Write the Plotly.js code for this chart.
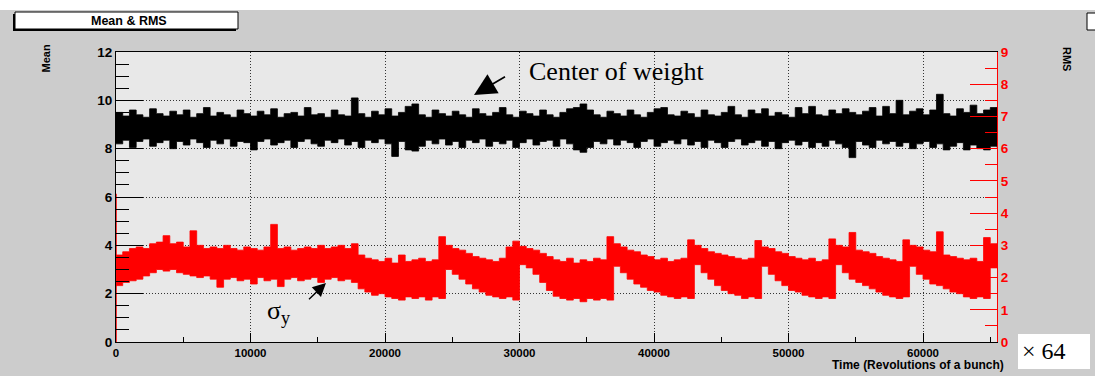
<!DOCTYPE html>
<html><head><meta charset="utf-8">
<script src="https://cdn.plot.ly/plotly-3.0.1.min.js"></script>
<style>html,body{margin:0;padding:0;background:#cccccc;}#chart{width:1095px;height:376px;}</style>
</head><body><div id="chart"></div>
<script>
// Sampling grid (revolutions of a bunch / 64)
const revolutions = [0,500,1000,1500,2000,2500,3000,3500,4000,4500,
5000,5500,6000,6500,7000,7500,8000,8500,9000,9500,
10000,10500,11000,11500,12000,12500,13000,13500,14000,14500,
15000,15500,16000,16500,17000,17500,18000,18500,19000,19500,
20000,20500,21000,21500,22000,22500,23000,23500,24000,24500,
25000,25500,26000,26500,27000,27500,28000,28500,29000,29500,
30000,30500,31000,31500,32000,32500,33000,33500,34000,34500,
35000,35500,36000,36500,37000,37500,38000,38500,39000,39500,
40000,40500,41000,41500,42000,42500,43000,43500,44000,44500,
45000,45500,46000,46500,47000,47500,48000,48500,49000,49500,
50000,50500,51000,51500,52000,52500,53000,53500,54000,54500,
55000,55500,56000,56500,57000,57500,58000,58500,59000,59500,
60000,60500,61000,61500,62000,62500,63000,63500,64000,64500,
65000,65500];

// Mean (centre of weight): upper / lower envelope of the black band (left axis)
const meanHi = [9.5,9.35,9.6,9.4,9.3,9.65,9.45,9.35,9.55,9.4,
9.6,9.3,9.45,9.7,9.35,9.5,9.4,9.3,9.6,9.45,
9.35,9.55,9.4,9.65,9.3,9.45,9.5,9.35,9.7,9.4,
9.45,9.3,9.6,9.4,9.35,10.1,9.45,9.3,9.55,9.4,
9.65,9.35,9.5,9.75,9.85,9.4,9.3,9.6,9.45,9.35,
9.55,9.4,9.3,9.65,9.45,9.35,9.5,9.7,9.4,9.3,
9.55,9.45,9.35,9.6,9.4,9.3,9.5,9.65,9.7,9.85,
9.6,9.4,9.3,9.55,9.45,9.35,9.6,9.4,9.3,9.5,
9.65,9.7,9.4,9.35,9.55,9.45,9.3,9.6,9.4,9.35,
9.5,9.75,9.4,9.3,9.6,9.45,9.65,9.35,9.5,9.4,
9.3,9.7,9.45,9.75,9.4,9.35,9.6,9.45,9.65,9.5,
9.4,9.55,9.7,9.35,9.75,9.45,10.0,9.4,9.55,9.65,
9.4,9.6,10.25,9.45,9.35,9.65,9.5,9.8,9.45,9.6,
9.7,9.5];
const meanLo = [8.2,8.35,8.05,8.3,8.4,8.1,8.25,8.35,8.0,8.3,
8.15,8.4,8.25,8.05,8.35,8.2,8.4,8.1,8.3,8.25,
7.95,8.3,8.4,8.15,8.25,8.35,8.05,8.3,8.4,8.2,
8.1,8.35,8.25,8.4,8.15,8.3,8.05,8.35,8.25,8.4,
8.2,7.68,8.3,7.95,7.9,8.1,8.35,8.2,8.4,8.15,
8.3,8.05,8.35,8.25,8.4,8.1,8.3,8.2,8.35,8.05,
8.25,8.4,8.15,8.3,8.35,8.1,8.4,8.2,7.95,7.85,
8.05,8.3,8.2,8.4,8.15,8.35,8.25,8.05,8.3,8.4,
8.1,8.25,8.35,8.2,8.4,8.15,8.3,8.05,8.35,8.25,
8.05,8.3,8.4,8.15,8.25,8.35,8.1,8.3,8.0,8.25,
8.35,8.15,8.3,8.05,8.25,8.1,8.35,8.2,8.05,7.63,
8.3,8.15,8.05,8.35,8.2,8.3,8.1,8.25,8.0,8.2,
8.3,8.05,8.2,7.95,8.1,8.25,7.95,8.15,8.0,7.95,
8.1,8.05];

// RMS (sigma_y): upper / lower envelope of the red band (right axis)
const rmsHi = [2.7,2.8,2.9,2.95,2.9,3.05,3.1,3.3,3.05,3.1,
2.95,3.45,3.0,2.9,2.95,2.9,3.0,2.9,2.85,2.95,
2.9,2.85,2.95,3.65,2.9,2.95,2.85,2.9,2.95,2.9,
3.0,2.9,2.95,3.0,2.9,3.05,2.7,2.6,2.55,2.5,
2.6,2.45,2.7,2.5,2.55,2.6,2.5,2.55,3.27,3.0,
2.9,2.85,2.75,2.65,2.6,2.55,2.5,2.6,2.95,3.13,
2.97,2.9,2.85,2.75,2.65,2.55,2.5,2.6,2.45,2.55,
2.5,2.6,2.55,3.27,3.05,2.95,2.85,2.8,2.7,2.65,
2.55,2.6,2.5,2.55,2.6,3.17,3.0,2.9,2.8,2.75,
2.7,2.65,2.6,2.55,2.6,3.15,2.95,2.9,2.8,2.75,
2.65,2.6,2.55,2.6,2.5,2.55,3.2,3.0,2.95,3.4,
2.85,2.8,2.75,2.65,2.6,2.55,2.5,3.17,3.0,2.95,
2.85,2.8,3.42,2.7,2.65,2.6,2.55,2.6,2.5,3.24,
3.05,3.0];
const rmsLo = [1.75,1.85,1.9,1.95,2.05,2.15,2.25,2.2,2.25,2.15,
2.1,2.05,2.0,2.05,1.95,1.7,1.95,2.0,1.9,1.95,
1.8,2.0,1.9,1.95,1.72,1.95,2.0,1.9,1.95,2.0,
1.85,1.95,2.0,1.9,1.95,1.85,1.65,1.55,1.45,1.5,
1.4,1.35,1.3,1.4,1.35,1.4,1.3,1.4,1.35,2.25,
2.1,1.95,1.8,1.65,1.55,1.45,1.4,1.35,1.4,1.3,
2.4,2.3,2.1,1.85,1.6,1.42,1.35,1.3,1.35,1.25,
1.35,1.3,1.35,1.3,2.35,2.15,1.95,1.8,1.7,1.6,
1.55,1.45,1.4,1.35,1.4,1.35,2.4,2.15,1.95,1.75,
1.6,1.5,1.45,1.35,1.4,1.35,2.35,2.1,1.9,1.75,
1.6,1.55,1.45,1.4,1.35,1.4,1.35,2.4,2.15,1.95,
1.85,1.75,1.65,1.55,1.45,1.4,1.35,1.4,2.35,2.1,
1.95,1.8,1.75,1.65,1.55,1.5,1.4,1.35,1.4,1.35,
2.3,2.35];
// initial vertical stroke of the RMS graph at t = 0
const rmsStartX = [0, 0];
const rmsStartY = [0, 4.6];

const SANS = '"Liberation Sans", Arial, Helvetica, sans-serif';
const SERIF = '"Liberation Serif", "Times New Roman", serif';

// pixel -> paper helpers (plot area 116..997 x 52..342)
const PL = 116, PR = 997, PT = 52, PB = 342;
const fx = p => (p - PL) / (PR - PL);
const fy = p => (PB - p) / (PB - PT);

const traces = [
  {x: revolutions, y: meanLo, type: 'scatter', mode: 'lines', line: {color: '#000', width: 0.8, shape: 'hv'}, hoverinfo: 'skip'},
  {x: revolutions, y: meanHi, type: 'scatter', mode: 'lines', fill: 'tonexty', fillcolor: '#000', line: {color: '#000', width: 0.8, shape: 'hv'}, hoverinfo: 'skip'},
  {x: revolutions, y: rmsLo, yaxis: 'y2', type: 'scatter', mode: 'lines', line: {color: '#ff0000', width: 0.8, shape: 'hv'}, hoverinfo: 'skip'},
  {x: revolutions, y: rmsHi, yaxis: 'y2', type: 'scatter', mode: 'lines', fill: 'tonexty', fillcolor: '#ff0000', line: {color: '#ff0000', width: 0.8, shape: 'hv'}, hoverinfo: 'skip'},
  {x: rmsStartX, y: rmsStartY, yaxis: 'y2', type: 'scatter', mode: 'lines', line: {color: '#ff0000', width: 1.5}, hoverinfo: 'skip'}
];

const grid = {showgrid: true, griddash: '1px,2px', gridcolor: '#333', gridwidth: 1};

const layout = {
  width: 1095, height: 376,
  margin: {l: PL, r: 1095 - PR, t: PT, b: 376 - PB, pad: 0},
  paper_bgcolor: '#cccccc', plot_bgcolor: '#e8e8e8', showlegend: false,
  xaxis: Object.assign({
    range: [0, 65500], tick0: 0, dtick: 10000, tickformat: 'd',
    ticks: 'inside', ticklen: 9, tickwidth: 1, tickcolor: '#000',
    minor: {dtick: 5000, ticks: 'inside', ticklen: 5, tickcolor: '#000', showgrid: false},
    showline: true, linecolor: '#000', linewidth: 1, mirror: true, zeroline: false,
    tickfont: {family: SANS, size: 11.5, color: '#000', weight: 'bold'}, fixedrange: true
  }, grid),
  yaxis: Object.assign({
    range: [0, 12], tick0: 0, dtick: 2,
    ticks: 'inside', ticklen: 27, tickwidth: 1, tickcolor: '#000',
    minor: {dtick: 0.5, ticks: 'inside', ticklen: 13, tickcolor: '#000', showgrid: false},
    showline: true, linecolor: '#000', linewidth: 1, zeroline: false,
    tickfont: {family: SANS, size: 13.5, color: '#000', weight: 'bold'}, fixedrange: true
  }, grid),
  yaxis2: {
    overlaying: 'y', side: 'right', range: [0, 9], tick0: 0, dtick: 1,
    ticks: 'inside', ticklen: 27, tickwidth: 1, tickcolor: '#ff0000',
    minor: {dtick: 0.5, ticks: 'inside', ticklen: 12, tickcolor: '#ff0000', showgrid: false},
    showgrid: false, showline: true, linecolor: '#ff0000', linewidth: 1, zeroline: false,
    tickfont: {family: SANS, size: 13.5, color: '#ff0000', weight: 'bold'}, fixedrange: true
  },
  shapes: [
    {type: 'rect', xref: 'paper', yref: 'paper', x0: fx(0), x1: fx(1095), y0: fy(0), y1: fy(10), fillcolor: '#ffffff', line: {width: 0}, layer: 'below'},
    {type: 'rect', xref: 'paper', yref: 'paper', x0: fx(13), x1: fx(236), y0: fy(14), y1: fy(31), fillcolor: '#000', line: {width: 0}},
    {type: 'rect', xref: 'paper', yref: 'paper', x0: fx(15), x1: fx(238), y0: fy(12), y1: fy(29), fillcolor: '#ffffff', line: {color: '#000', width: 1}},
    {type: 'rect', xref: 'paper', yref: 'paper', x0: fx(1087), x1: fx(1100), y0: fy(13), y1: fy(30), fillcolor: '#ffffff', line: {color: '#000', width: 1}},
    {type: 'rect', xref: 'paper', yref: 'paper', x0: fx(1018), x1: fx(1090), y0: fy(334), y1: fy(369), fillcolor: '#ffffff', line: {width: 0}}
  ],
  annotations: [
    {xref: 'paper', yref: 'paper', x: fx(129), y: fy(21), text: 'Mean &amp; RMS', showarrow: false, xanchor: 'center', yanchor: 'middle', font: {family: SANS, size: 12.5, color: '#000', weight: 'bold'}},
    {xref: 'paper', yref: 'paper', x: fx(45), y: fy(58.5), text: 'Mean', textangle: -90, showarrow: false, xanchor: 'center', yanchor: 'middle', font: {family: SANS, size: 11, color: '#000', weight: 'bold'}},
    {xref: 'paper', yref: 'paper', x: fx(1067), y: fy(59), text: 'RMS', textangle: 90, showarrow: false, xanchor: 'center', yanchor: 'middle', font: {family: SANS, size: 11, color: '#000', weight: 'bold'}},
    {xref: 'paper', yref: 'paper', x: fx(1006), y: fy(365), text: 'Time (Revolutions of a bunch)', showarrow: false, xanchor: 'right', yanchor: 'middle', font: {family: SANS, size: 12, color: '#000', weight: 'bold'}},
    {xref: 'paper', yref: 'paper', x: fx(1044), y: fy(351), text: '× 64', showarrow: false, xanchor: 'center', yanchor: 'middle', font: {family: SERIF, size: 24, color: '#000'}},
    {xref: 'paper', yref: 'paper', x: fx(617), y: fy(71), text: 'Center of weight', showarrow: false, xanchor: 'center', yanchor: 'middle', font: {family: SERIF, size: 26, color: '#000'}},
    {xref: 'paper', yref: 'paper', x: fx(474), y: fy(95), text: ' ', showarrow: true, ax: 34, ay: -20, arrowhead: 2, arrowsize: 2.6, arrowwidth: 1.7, arrowcolor: '#000', standoff: 0},
    {xref: 'paper', yref: 'paper', x: fx(279), y: fy(312), text: 'σ<sub>y</sub>', showarrow: false, xanchor: 'center', yanchor: 'middle', font: {family: SERIF, size: 26, color: '#000'}},
    {xref: 'paper', yref: 'paper', x: fx(326), y: fy(283), text: ' ', showarrow: true, ax: -20, ay: 19, arrowhead: 2, arrowsize: 1.9, arrowwidth: 1.4, arrowcolor: '#000', standoff: 0}
  ]
};

Plotly.newPlot('chart', traces, layout, {staticPlot: true, displayModeBar: false});
</script></body></html>
